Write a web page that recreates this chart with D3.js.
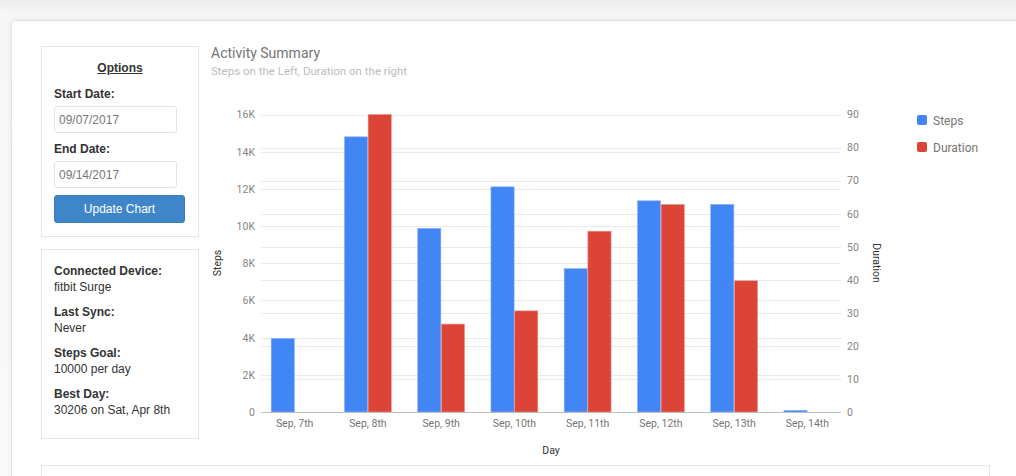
<!DOCTYPE html>
<html>
<head>
<meta charset="utf-8">
<style>
  body {
    margin: 0;
    padding: 0;
    width: 1016px;
    height: 476px;
    overflow: hidden;
    background: linear-gradient(#ececec, #f7f7f7 14px, #fafafa);
    font-family: "Liberation Sans", Arial, sans-serif;
  }
  #card {
    position: absolute;
    left: 11px;
    top: 20px;
    width: 1040px;
    height: 500px;
    background: #fff;
    border: 1px solid #e3e3e3;
    border-radius: 4px;
    box-shadow: 0 0 6px rgba(0,0,0,0.08);
  }
  .box {
    position: absolute;
    left: 41px;
    width: 156px;
    border: 1px solid #e6e6e6;
    background: #fff;
    color: #333;
    font-size: 12px;
  }
  .box b { display: block; font-weight: bold; }
  .inp {
    position: absolute;
    left: 12px;
    width: 123px;
    height: 27px;
    border: 1px solid #e3e3e3;
    border-radius: 3px;
    color: #777;
    line-height: 26px;
    padding-left: 4px;
    box-sizing: border-box;
    font-size: 12px;
  }
  #btn {
    position: absolute;
    left: 12px;
    top: 148px;
    width: 131px;
    height: 28px;
    background: #3f86c8;
    border: 1px solid #3a7cb8;
    border-radius: 3px;
    box-sizing: border-box;
    color: #fff;
    text-align: center;
    line-height: 26px;
    font-size: 12px;
  }
  #bottom {
    position: absolute;
    left: 41px;
    top: 465px;
    width: 947px;
    height: 30px;
    border: 1px solid #e6e6e6;
    background: #fff;
  }
  svg { position: absolute; left: 0; top: 0; }
</style>
</head>
<body>
<div id="card"></div>
<div class="box" id="opts" style="top:46px;height:189px;">
  <div style="position:absolute;top:14px;width:100%;text-align:center;font-weight:bold;text-decoration:underline;">Options</div>
  <b style="position:absolute;left:12px;top:40px;">Start Date:</b>
  <div class="inp" style="top:59px;">09/07/2017</div>
  <b style="position:absolute;left:12px;top:95px;">End Date:</b>
  <div class="inp" style="top:114px;">09/14/2017</div>
  <div id="btn">Update Chart</div>
</div>
<div class="box" id="info" style="top:249px;height:188px;">
  <div style="position:absolute;left:12px;top:13px;line-height:16px;">
    <b>Connected Device:</b>fitbit Surge
    <b style="margin-top:9px;">Last Sync:</b>Never
    <b style="margin-top:9px;">Steps Goal:</b>10000 per day
    <b style="margin-top:9px;">Best Day:</b>30206 on Sat, Apr 8th
  </div>
</div>
<div id="bottom"></div>
<svg id="chart" width="1016" height="476"></svg>
<script src="https://cdnjs.cloudflare.com/ajax/libs/d3/7.8.5/d3.min.js"></script>
<script>
  var days = ["Sep, 7th", "Sep, 8th", "Sep, 9th", "Sep, 10th", "Sep, 11th", "Sep, 12th", "Sep, 13th", "Sep, 14th"];
  var steps = [3960, 14800, 9880, 12110, 7710, 11360, 11170, 90];
  var duration = [0, 90, 26.6, 30.6, 54.7, 62.8, 39.7, 0];
  var stepTicks = [0, 2000, 4000, 6000, 8000, 10000, 12000, 14000, 16000];
  var durTicks = [0, 10, 20, 30, 40, 50, 60, 70, 80, 90];
  var seriesNames = ["Steps", "Duration"];
  var colors = ["#4285f4", "#db4437"];

  var svg = d3.select("#chart");
  var font = "Roboto, 'Noto Sans', sans-serif";
  var plotLeft = 261, plotRight = 841, plotTop = 114.5, plotBottom = 412;

  var x = d3.scaleBand().domain(days).range([258, 844]).paddingInner(0.36).paddingOuter(0.18);
  var x1 = d3.scaleBand().domain([0, 1]).range([0, x.bandwidth()]).paddingInner(0.02);
  var yL = d3.scaleLinear().domain([0, 16000]).range([plotBottom, plotTop]);
  var yR = d3.scaleLinear().domain([0, 90]).range([plotBottom, plotTop]);

  // titles
  svg.append("text").attr("x", 211).attr("y", 58).text("Activity Summary")
    .style("font-family", font).style("font-size", "14px").attr("fill", "#757575");
  svg.append("text").attr("x", 211).attr("y", 75).text("Steps on the Left, Duration on the right")
    .style("font-family", font).style("font-size", "11.5px").attr("fill", "#bdbdbd");

  // gridlines for both axes
  svg.append("g").selectAll("line").data(stepTicks.slice(1)).enter().append("line")
    .attr("x1", plotLeft).attr("x2", plotRight)
    .attr("y1", function(d) { return Math.round(yL(d)) + 0.5; })
    .attr("y2", function(d) { return Math.round(yL(d)) + 0.5; })
    .attr("stroke", "#e9e9e9");
  svg.append("g").selectAll("line").data(durTicks.slice(1)).enter().append("line")
    .attr("x1", plotLeft).attr("x2", plotRight)
    .attr("y1", function(d) { return Math.round(yR(d)) + 0.5; })
    .attr("y2", function(d) { return Math.round(yR(d)) + 0.5; })
    .attr("stroke", "#e9e9e9");

  var fmt = function(d) { return d === 0 ? "0" : (d / 1000) + "K"; };
  var axL = svg.append("g").attr("transform", "translate(" + (plotLeft - 2) + ",0)")
    .call(d3.axisLeft(yL).tickValues(stepTicks).tickFormat(fmt).tickSize(0).tickPadding(4));
  var axR = svg.append("g").attr("transform", "translate(" + (plotRight + 2) + ",0)")
    .call(d3.axisRight(yR).tickValues(durTicks).tickSize(0).tickPadding(4));
  [axL, axR].forEach(function(a) {
    a.select(".domain").remove();
    a.selectAll("text").style("font-family", font).style("font-size", "10.5px").attr("fill", "#848484");
  });

  // bars
  var groups = svg.append("g").selectAll("g").data(days).enter().append("g")
    .attr("transform", function(d) { return "translate(" + x(d) + ",0)"; });
  groups.append("rect")
    .attr("x", x1(0)).attr("width", x1.bandwidth())
    .attr("y", function(d, i) { return yL(steps[i]); })
    .attr("height", function(d, i) { return plotBottom - yL(steps[i]); })
    .attr("fill", colors[0]).attr("stroke", "#8fb4f8").attr("stroke-width", 0.6);
  groups.filter(function(d, i) { return duration[i] > 0; }).append("rect")
    .attr("x", x1(1)).attr("width", x1.bandwidth())
    .attr("y", function(d) { return yR(duration[days.indexOf(d)]); })
    .attr("height", function(d) { return plotBottom - yR(duration[days.indexOf(d)]); })
    .attr("fill", colors[1]).attr("stroke", "#ec9a92").attr("stroke-width", 0.6);

  // baseline
  svg.append("line").attr("x1", plotLeft).attr("x2", plotRight)
    .attr("y1", plotBottom + 0.5).attr("y2", plotBottom + 0.5)
    .attr("stroke", "#bdbdbd").attr("stroke-width", 1.2);

  // x axis labels
  var axX = svg.append("g").attr("transform", "translate(0," + (plotBottom + 4) + ")")
    .call(d3.axisBottom(x).tickSize(0).tickPadding(4));
  axX.select(".domain").remove();
  axX.selectAll("text").style("font-family", font).style("font-size", "10.5px").attr("fill", "#757575");

  // axis titles
  svg.append("text").attr("x", 551).attr("y", 454).attr("text-anchor", "middle").text("Day")
    .style("font-family", font).style("font-size", "10.5px").attr("fill", "#333");
  svg.append("text").attr("transform", "translate(221,263) rotate(-90)").attr("text-anchor", "middle").text("Steps")
    .style("font-family", font).style("font-size", "10.5px").attr("fill", "#333");
  svg.append("text").attr("transform", "translate(873,263) rotate(90)").attr("text-anchor", "middle").text("Duration")
    .style("font-family", font).style("font-size", "10.5px").attr("fill", "#333");

  // legend
  var leg = svg.append("g").selectAll("g").data(seriesNames).enter().append("g")
    .attr("transform", function(d, i) { return "translate(917," + (115 + i * 27) + ")"; });
  leg.append("rect").attr("width", 10).attr("height", 10).attr("rx", 2)
    .attr("fill", function(d, i) { return colors[i]; });
  leg.append("text").attr("x", 16).attr("y", 10).text(function(d) { return d; })
    .style("font-family", font).style("font-size", "12px").attr("fill", "#757575");
</script>
</body>
</html>
